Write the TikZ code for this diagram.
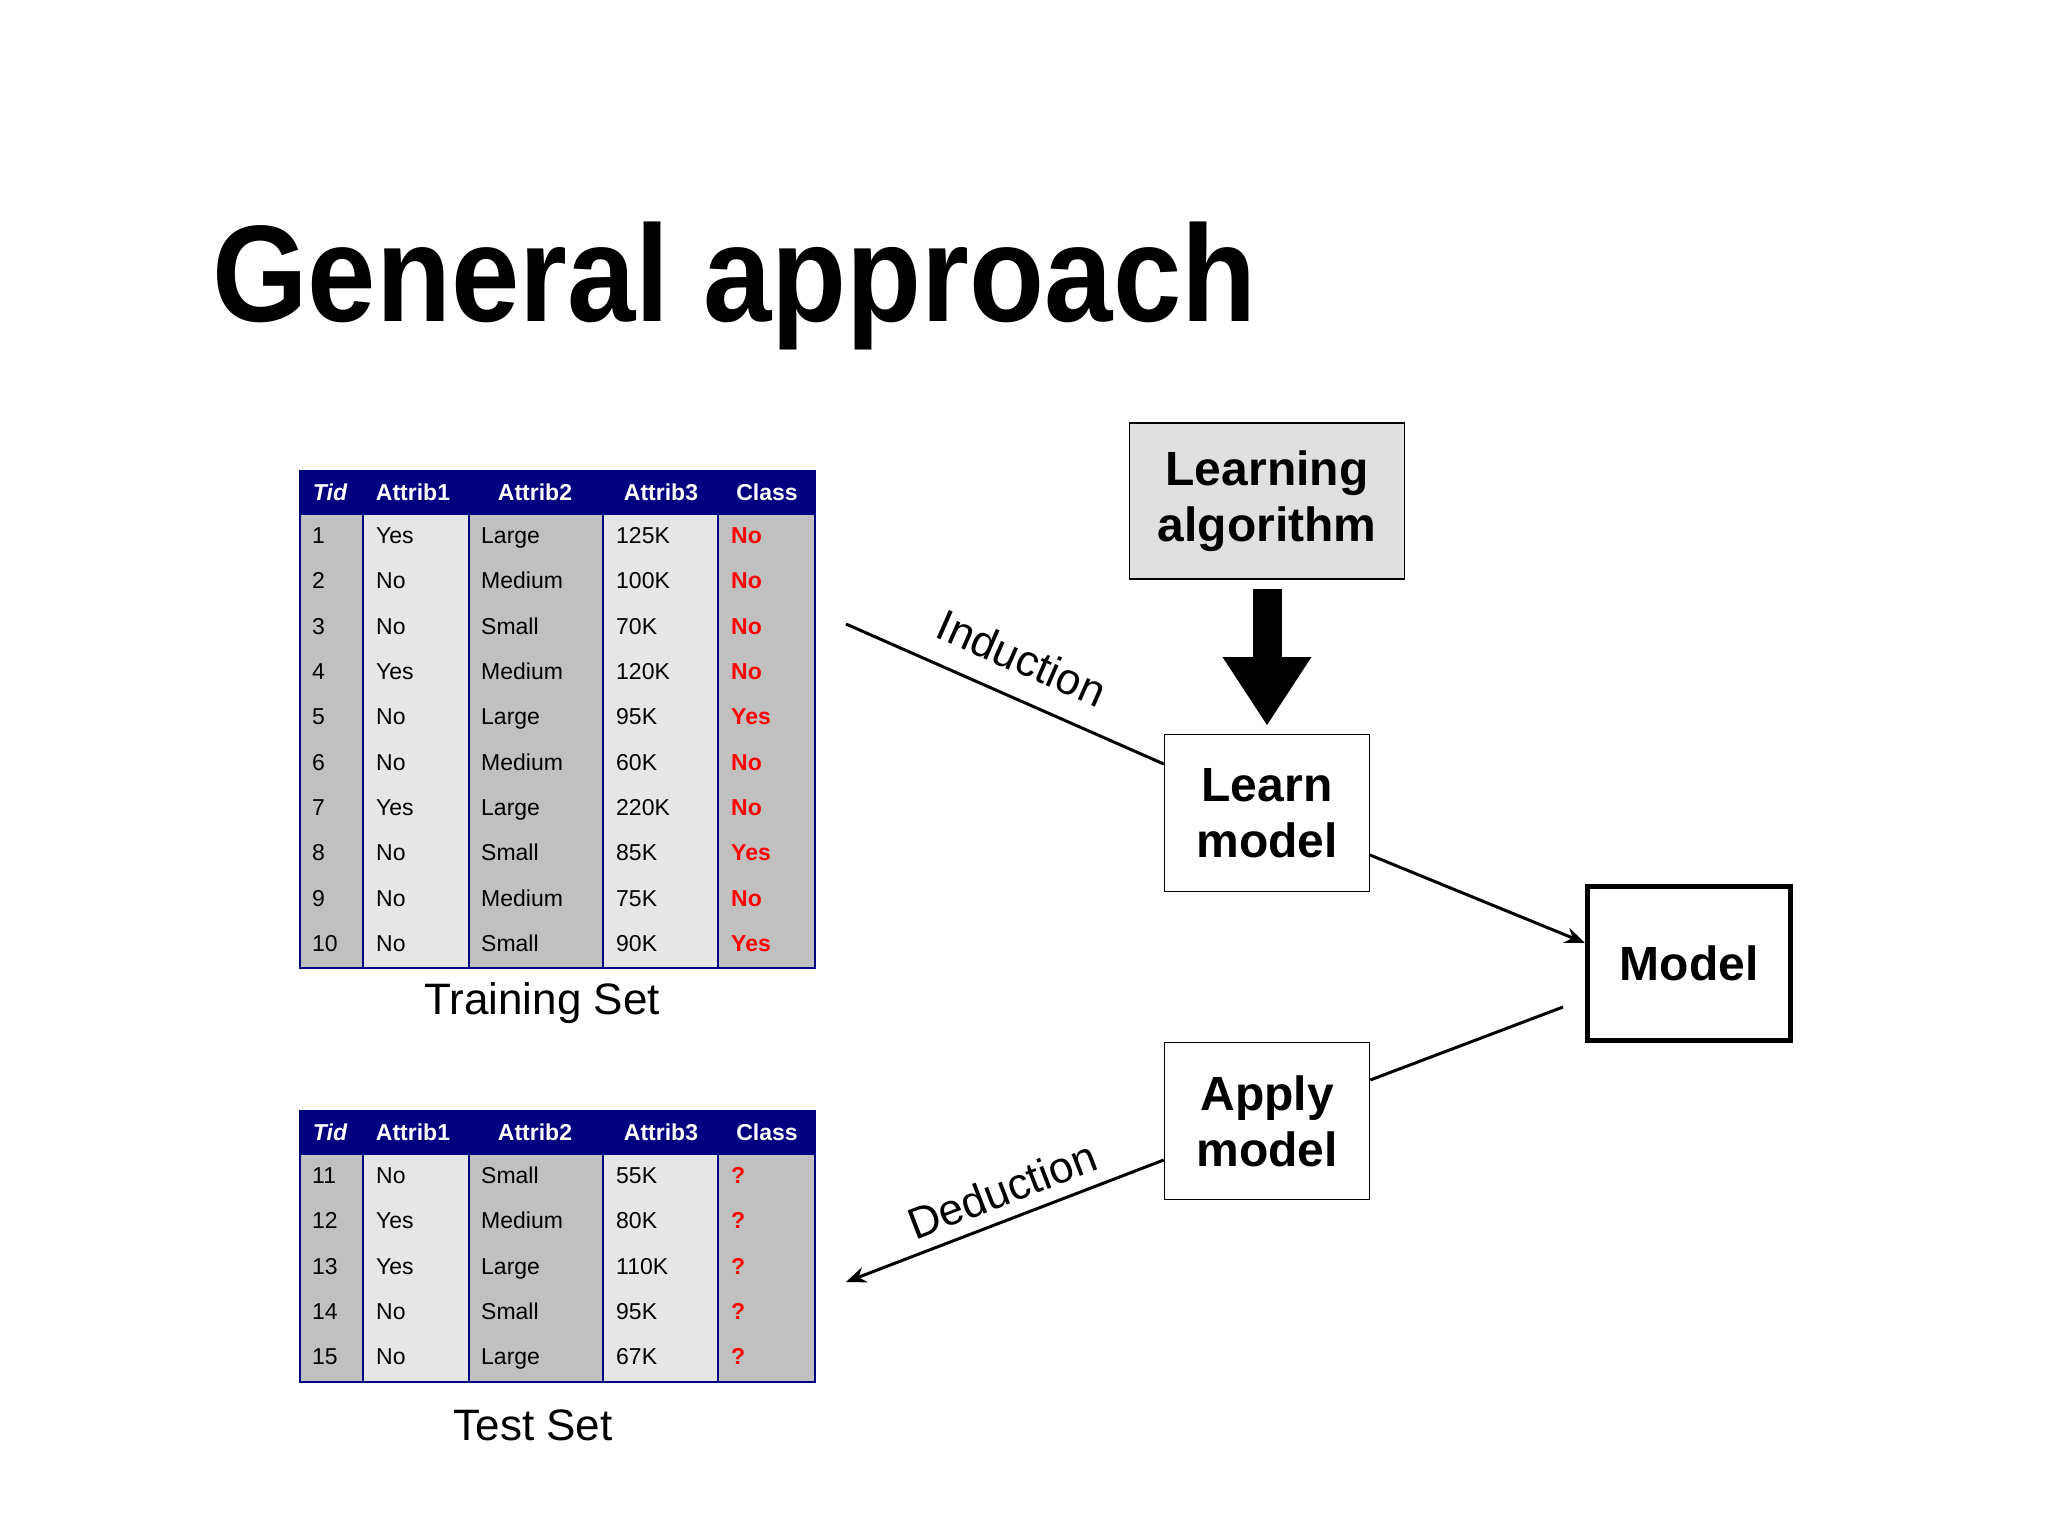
\documentclass[tikz,border=0pt]{standalone}
\usepackage{fontspec}
\setmainfont{Liberation Sans}
\usepackage{graphicx}
\usetikzlibrary{arrows.meta}
\definecolor{navy}{HTML}{000080}
\definecolor{cdark}{HTML}{C0C0C0}
\definecolor{clight}{HTML}{E6E6E6}
\definecolor{boxgray}{HTML}{E0E0E0}
\newcommand\cellfont{\fontsize{23}{27}\selectfont}
\tikzset{
  cell/.style={anchor=west,inner sep=0pt,font=\cellfont,text height=16pt,text depth=4pt},
  hcell/.style={anchor=center,inner sep=0pt,font=\cellfont\bfseries,text=white,text height=16pt,text depth=4pt},
  red/.style={text=red,font=\cellfont\bfseries},
  box/.style={draw,line width=1.5pt,minimum width=205pt,minimum height=157pt,align=center,font=\fontsize{48}{56}\selectfont\bfseries,inner sep=0pt},
  conn/.style={line width=3pt},
  lab/.style={font=\fontsize{44}{50}\selectfont,inner sep=0pt}
}
% #1 prefix, #2 top y, #3 number of rows, #4 data
\newcommand\mytable[4]{%
  \pgfmathsetmacro\bot{#2+44+45.3*#3}
  \fill[navy] (300,#2) rectangle (815,#2+44);
  \fill[cdark] (300,#2+44) rectangle (363,\bot);
  \fill[clight] (363,#2+44) rectangle (469,\bot);
  \fill[cdark] (469,#2+44) rectangle (603,\bot);
  \fill[clight] (603,#2+44) rectangle (718,\bot);
  \fill[cdark] (718,#2+44) rectangle (815,\bot);
  \foreach \xx in {363,469,603,718}{\draw[navy,line width=1.5pt] (\xx,#2+44) -- (\xx,\bot);}
  \draw[navy,line width=2pt] (300,#2) rectangle (815,\bot);
  \node[hcell,font=\cellfont\bfseries\itshape] (#1-h1) at (330,#2+23) {Tid};
  \node[hcell] (#1-h2) at (413,#2+23) {Attrib1};
  \node[hcell] (#1-h3) at (535,#2+23) {Attrib2};
  \node[hcell] (#1-h4) at (661,#2+23) {Attrib3};
  \node[hcell] (#1-h5) at (767,#2+23) {Class};
  \foreach \a/\b/\c/\d/\e [count=\i] in {#4}{
    \pgfmathsetmacro\yy{#2+44+45.3*(\i-0.5)}
    \node[cell] (#1-\i-1) at (312,\yy) {\a};
    \node[cell] (#1-\i-2) at (376,\yy) {\b};
    \node[cell] (#1-\i-3) at (481,\yy) {\c};
    \node[cell] (#1-\i-4) at (616,\yy) {\d};
    \node[cell,red] (#1-\i-5) at (731,\yy) {\e};
  }
}
\begin{document}
\begin{tikzpicture}[x=1pt,y=-1pt]
\useasboundingbox[fill=white] (0,0) rectangle (2048,1536);
\node[anchor=north west,inner sep=0pt] (title) at (212,222)
  {\resizebox*{1044pt}{128pt}{\bfseries General approach}};
\mytable{tr}{471}{10}{1/Yes/Large/125K/No,2/No/Medium/100K/No,3/No/Small/70K/No,4/Yes/Medium/120K/No,5/No/Large/95K/Yes,6/No/Medium/60K/No,7/Yes/Large/220K/No,8/No/Small/85K/Yes,9/No/Medium/75K/No,10/No/Small/90K/Yes}
\mytable{te}{1111}{5}{11/No/Small/55K/?,12/Yes/Medium/80K/?,13/Yes/Large/110K/?,14/No/Small/95K/?,15/No/Large/67K/?}
\node[lab] (trl) at (542,1003) {Training Set};
\node[lab] (tel) at (533,1425) {Test Set};
\node[box,fill=boxgray,minimum width=275pt,minimum height=156pt] (alg) at (1267,501) {Learning\\algorithm};
\node[box] (learn) at (1267,813) {Learn\\model};
\node[box,line width=5pt,minimum width=203pt,minimum height=154pt] (model) at (1689,963) {Model};
\node[box] (apply) at (1267,1121) {Apply\\model};
\coordinate (indA) at (846,624);
\coordinate (dedB) at (846,1282);
\coordinate (arT) at (1267,589);
\coordinate (arB) at (1267,725);
\fill (1252.5,589) rectangle (1281.5,657);
\fill (1222.5,657) -- (1311.5,657) -- (arB) -- cycle;
\draw[conn] (indA) -- (learn.west |- 0,764);
\node[lab,rotate=-23.7] (indl) at (1022,658) {Induction};
\draw[conn,-{Stealth[length=20pt,width=16pt]}] (1370,855) -- (model.west |- 0,943);
\draw[conn] (1563,1007) -- (apply.east |- 0,1080);
\draw[conn,-{Stealth[length=20pt,width=16pt]}] (apply.west |- 0,1160) -- (dedB);
\node[lab,rotate=21] (dedl) at (1002,1190) {Deduction};
\end{tikzpicture}
\end{document}
